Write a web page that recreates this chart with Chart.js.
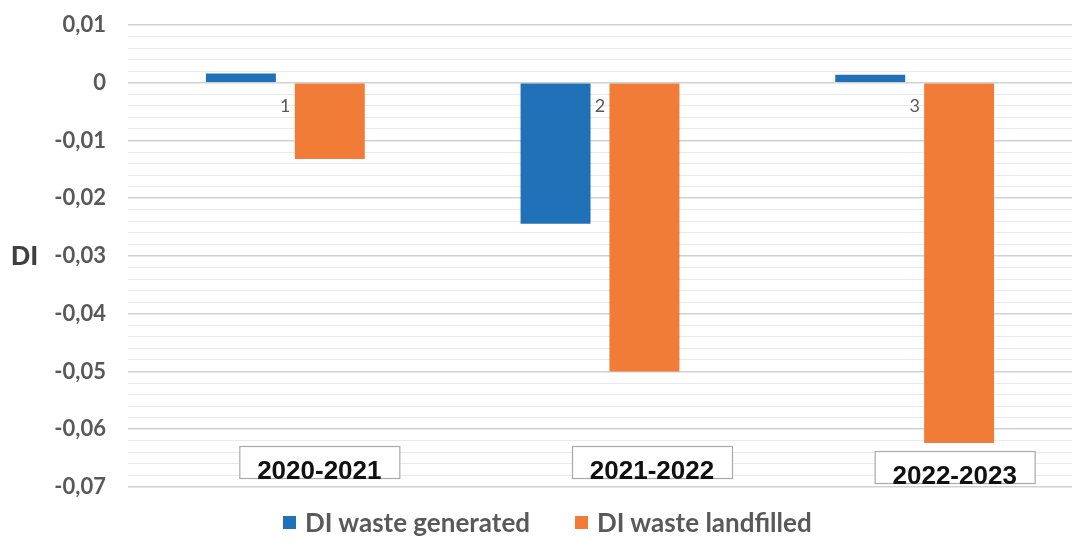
<!DOCTYPE html>
<html>
<head>
<meta charset="utf-8">
<script src="https://cdn.jsdelivr.net/npm/chart.js@4/dist/chart.umd.min.js"></script>
<style>
  html, body { margin: 0; padding: 0; background: #fff; }
  #wrap { width: 1072px; height: 539px; position: relative; }
  #legend {
    position: absolute; left: 283px; top: 506px;
    display: flex; align-items: center;
    font: bold 26px Lato, "Open Sans", sans-serif; color: #595959;
  }
  .item { display: flex; align-items: center; margin-right: 45px; }
  .swatch { width: 13px; height: 13px; margin-right: 9px; }
</style>
</head>
<body>
<div id="wrap">
  <canvas id="diChart"></canvas>
  <div id="legend"></div>
</div>
<script>
// Decoupling index per period
const categories = ['1', '2', '3'];
const periods = ['2020-2021', '2021-2022', '2022-2023'];
const wasteGenerated = [0.0016, -0.0244, 0.0014];
const wasteLandfilled = [-0.0132, -0.0500, -0.0624];

const greyText = '#595959';

function isMajor(v) {
    return Math.round(v * 1000) % 10 === 0;
}

function formatTick(v) {
    if (!isMajor(v)) return '';
    const r = Math.round(v * 100) / 100;
    if (r === 0) return '0';
    return r.toFixed(2).replace('.', ',');
}

// "DI" label beside the value axis, drawn upright
const axisTitle = {
    id: 'axisTitle',
    afterDraw(chart) {
        const ctx = chart.ctx;
        const y = chart.scales.y;
        ctx.save();
        ctx.font = 'bold 27px "Liberation Sans", Arial, sans-serif';
        ctx.fillStyle = '#404040';
        ctx.textAlign = 'left';
        ctx.textBaseline = 'middle';
        ctx.fillText('DI', 11, y.getPixelForValue(-0.0302));
        ctx.restore();
    }
};

// boxed period captions near the bottom of each group
const periodBoxes = {
    id: 'periodBoxes',
    afterDatasetsDraw(chart) {
        const ctx = chart.ctx;
        const x = chart.scales.x;
        const shift = [34, 52, 40];
        const tops = [446, 446, 451];
        ctx.save();
        ctx.font = 'bold 26px "Liberation Sans", Arial, sans-serif';
        ctx.textAlign = 'center';
        ctx.textBaseline = 'alphabetic';
        periods.forEach((p, i) => {
            const cx = x.getPixelForValue(i) + shift[i];
            const w = 160, h = 32;
            ctx.fillStyle = '#ffffff';
            ctx.fillRect(cx - w / 2, tops[i], w, h);
            ctx.strokeStyle = '#a9a9a9';
            ctx.lineWidth = 1.2;
            ctx.strokeRect(cx - w / 2 + 0.5, tops[i] + 0.5, w, h);
            ctx.fillStyle = '#111111';
            ctx.fillText(p, cx, tops[i] + h + 1);
        });
        ctx.restore();
    }
};

const ctx = document.getElementById('diChart').getContext('2d');
const chart = new Chart(ctx, {
    type: 'bar',
    data: {
        labels: categories,
        datasets: [{
            label: 'DI waste generated',
            data: wasteGenerated,
            backgroundColor: '#2171b8',
            categoryPercentage: 0.565,
            barPercentage: 0.787
        }, {
            label: 'DI waste landfilled',
            data: wasteLandfilled,
            backgroundColor: '#f07c37',
            categoryPercentage: 0.565,
            barPercentage: 0.787
        }]
    },
    options: {
        responsive: true,
        maintainAspectRatio: false,
        animation: false,
        layout: { padding: { top: 25, right: 0, left: 0, bottom: 52 } },
        plugins: {
            legend: { display: false },
            tooltip: { enabled: false }
        },
        scales: {
            x: {
                position: { y: 0 },
                grid: { display: false },
                border: { display: false },
                ticks: {
                    padding: 5,
                    color: greyText,
                    font: { family: 'Lato, sans-serif', size: 18 }
                }
            },
            y: {
                min: -0.07,
                max: 0.01,
                border: { display: false },
                afterFit(scale) {
                    scale.width = 128;
                    // labels may overhang the plot; the outer padding handles that
                    scale.paddingTop = 0;
                    scale.paddingBottom = 0;
                },
                grid: {
                    drawTicks: false,
                    color: c => isMajor(c.tick.value) ? '#cfd2d4' : '#e8e9ea',
                    lineWidth: c => isMajor(c.tick.value) ? 1.6 : 1
                },
                ticks: {
                    stepSize: 0.002,
                    maxTicksLimit: 100,
                    autoSkip: false,
                    padding: 22,
                    color: greyText,
                    font: { family: 'Lato, sans-serif', size: 22, weight: 'bold' },
                    callback: v => formatTick(v)
                }
            }
        }
    },
    plugins: [axisTitle, periodBoxes]
});

// legend row built from the dataset labels and colours
const legendEl = document.getElementById('legend');
chart.data.datasets.forEach(ds => {
    const item = document.createElement('div');
    item.className = 'item';
    const sw = document.createElement('span');
    sw.className = 'swatch';
    sw.style.background = ds.backgroundColor;
    const txt = document.createElement('span');
    txt.textContent = ds.label;
    item.appendChild(sw);
    item.appendChild(txt);
    legendEl.appendChild(item);
});
</script>
</body>
</html>
